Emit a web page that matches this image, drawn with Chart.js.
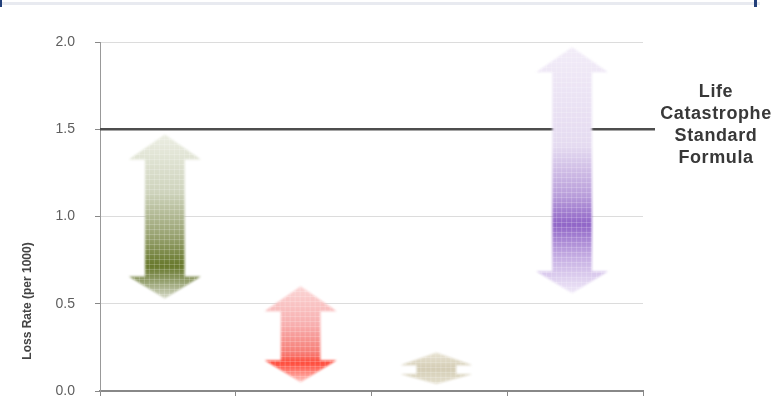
<!DOCTYPE html>
<html>
<head>
<meta charset="utf-8">
<script src="https://cdn.jsdelivr.net/npm/chart.js@4.4.1/dist/chart.umd.min.js"></script>
<style>
  html, body { margin: 0; padding: 0; background: #fff; }
  #wrap { width: 784px; height: 403px; position: relative; }
</style>
</head>
<body>
<div id="wrap"><canvas id="lossChart" width="784" height="403"></canvas></div>
<script>
/* Rangos de tasa de perdida (por 1000) - flechas dobles por categoria */

const categories = ['A', 'B', 'C', 'D'];
const rangeLow  = [0.53, 0.05, 0.04, 0.56];
const rangeHigh = [1.47, 0.60, 0.22, 1.97];
const standardFormula = 1.5;
const standardLabel = ['Life', 'Catastrophe', 'Standard', 'Formula'];
const yTicks = [0, 0.5, 1.0, 1.5, 2.0];
const yTitle = 'Loss Rate (per 1000)';

// gradientes de cada flecha (arriba -> abajo)
const arrowStops = [
  [[0, '#eceee3'], [0.35, '#cfd4bd'], [0.62, '#98a270'], [0.8, '#67782b'], [0.88, '#8c9862'], [1, '#d6dac8']],
  [[0, '#fbd6d6'], [0.4, '#f8afaf'], [0.7, '#f77c74'], [0.8, '#ff4a3a'], [1, '#ffc8c4']],
  [[0, '#e8e3d3'], [0.5, '#d4cdb5'], [1, '#e4dfcd']],
  [[0, '#f2ecf8'], [0.4, '#e5dbf1'], [0.6, '#ba9fdb'], [0.72, '#9065c7'], [0.85, '#c5ade3'], [1, '#f0e9f8']]
];

const FONT = "'Liberation Sans', Arial, sans-serif";

function arrowPath(ctx, x, top, bottom, headW, shaftW) {
  const h = bottom - top;
  const hh = Math.min(25, h * 0.4);
  const hh2 = Math.min(22, h * 0.32);
  const hw = headW / 2, sw = shaftW / 2;
  ctx.beginPath();
  ctx.moveTo(x, top);
  ctx.lineTo(x + hw, top + hh);
  ctx.lineTo(x + sw, top + hh);
  ctx.lineTo(x + sw, bottom - hh2);
  ctx.lineTo(x + hw, bottom - hh2);
  ctx.lineTo(x, bottom);
  ctx.lineTo(x - hw, bottom - hh2);
  ctx.lineTo(x - sw, bottom - hh2);
  ctx.lineTo(x - sw, top + hh);
  ctx.lineTo(x - hw, top + hh);
  ctx.closePath();
}

const arrowPlugin = {
  id: 'arrows',
  beforeDatasetsDraw(chart) {
    // linea de referencia (Standard Formula)
    const { ctx, chartArea, scales } = chart;
    const y = scales.y.getPixelForValue(standardFormula);
    ctx.save();
    ctx.strokeStyle = '#4d4d4d';
    ctx.lineWidth = 2.5;
    ctx.beginPath();
    ctx.moveTo(chartArea.left, y);
    ctx.lineTo(chartArea.right + 12, y);
    ctx.stroke();
    ctx.restore();
  },
  afterDatasetsDraw(chart) {
    const { ctx } = chart;
    const meta = chart.getDatasetMeta(0);
    meta.data.forEach((bar, i) => {
      const top = Math.min(bar.y, bar.base);
      const bottom = Math.max(bar.y, bar.base);
      const x = bar.x - 3;
      const headW = bar.width;
      const shaftW = headW * 0.55;
      ctx.save();
      const g = ctx.createLinearGradient(0, top, 0, bottom);
      arrowStops[i].forEach(s => g.addColorStop(s[0], s[1]));
      ctx.filter = 'blur(0.8px)';
      arrowPath(ctx, x, top, bottom, headW, shaftW);
      ctx.fillStyle = g;
      ctx.fill();
      ctx.filter = 'none';
      // textura punteada
      arrowPath(ctx, x, top, bottom, headW, shaftW);
      ctx.clip();
      ctx.fillStyle = 'rgba(255,255,255,0.2)';
      for (let yy = Math.floor(top); yy < bottom; yy += 5) {
        ctx.fillRect(x - headW / 2, yy, headW, 1);
      }
      for (let xx = x - headW / 2; xx < x + headW / 2; xx += 5) {
        ctx.fillRect(xx, top, 1, bottom - top);
      }
      ctx.restore();
    });
  },
  afterDraw(chart) {
    const { ctx, chartArea, scales } = chart;
    ctx.save();
    // etiqueta de la linea de referencia
    ctx.fillStyle = '#383838';
    ctx.font = 'bold 18px ' + FONT;
    ctx.letterSpacing = '0.6px';
    ctx.textAlign = 'center';
    ctx.textBaseline = 'middle';
    ctx.filter = 'blur(0.4px)';
    const yRef = scales.y.getPixelForValue(standardFormula);
    standardLabel.forEach((t, k) => {
      ctx.fillText(t, chartArea.right + 73, yRef - 37 + k * 22);
    });
    // titulo eje Y
    ctx.letterSpacing = '0px';
    ctx.translate(28, chartArea.bottom - 90);
    ctx.rotate(-Math.PI / 2);
    ctx.font = 'bold 12px ' + FONT;
    ctx.fillStyle = '#444';
    ctx.fillText(yTitle, 0, 0);
    ctx.restore();
    // borde superior (resto del titulo de la diapositiva)
    ctx.save();
    ctx.fillStyle = '#e8eaf0';
    ctx.fillRect(0, 2, 760, 3);
    ctx.fillStyle = '#23407a';
    ctx.fillRect(0, 0, 2, 7);
    ctx.fillRect(754, 0, 3, 7);
    ctx.restore();
  }
};

new Chart(document.getElementById('lossChart'), {
  type: 'bar',
  data: {
    labels: categories,
    datasets: [{
      data: categories.map((c, i) => [rangeLow[i], rangeHigh[i]]),
      backgroundColor: 'rgba(0,0,0,0)',
      borderWidth: 0,
      barThickness: 72
    }]
  },
  options: {
    responsive: false,
    animation: false,
    layout: { padding: { top: 42, right: 141, left: 0, bottom: 0 } },
    plugins: { legend: { display: false }, tooltip: { enabled: false } },
    scales: {
      x: {
        afterFit(scale) { scale.height = 12; },
        ticks: { display: false },
        grid: { display: true, drawOnChartArea: false, offset: true, tickLength: 5, color: '#888', tickColor: '#888' },
        border: { color: '#888', width: 2 }
      },
      y: {
        min: 0, max: 2,
        afterFit(scale) {
          scale.width = 100;
          // el padding de las etiquetas no debe empujar el area del grafico
          scale.paddingTop = 0;
          scale.paddingBottom = 0;
        },
        afterBuildTicks(scale) { scale.ticks = yTicks.map(v => ({ value: v })); },
        ticks: {
          padding: 20,
          color: '#5e5e5e',
          font: { family: FONT, size: 14 },
          callback: v => Number(v).toFixed(1)
        },
        grid: { color: '#dcdcdc', tickColor: '#888', tickLength: 5 },
        border: { color: '#999', width: 1 }
      }
    }
  },
  plugins: [arrowPlugin]
});
</script>
</body>
</html>
